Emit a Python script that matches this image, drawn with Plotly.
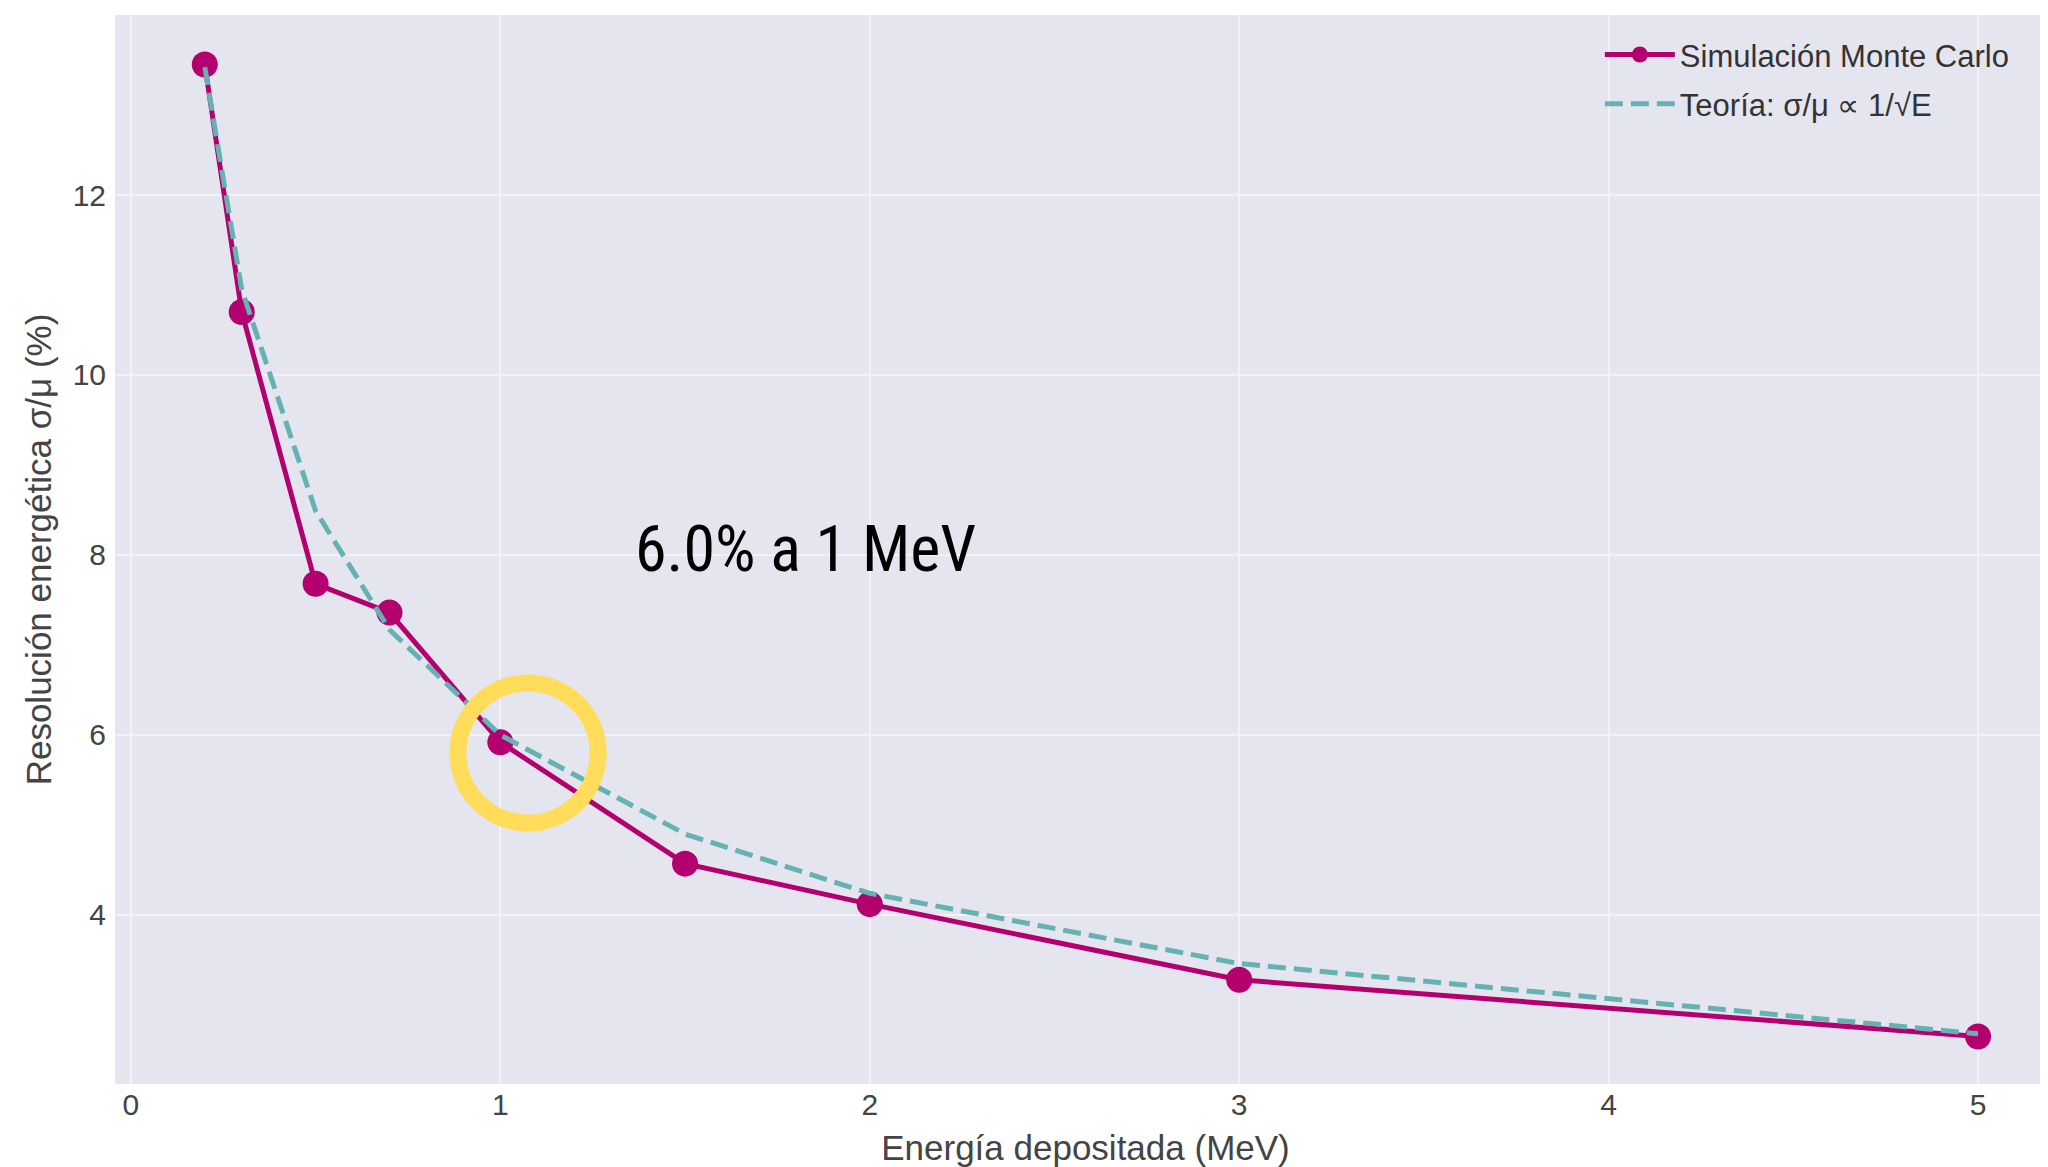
import plotly.graph_objects as go

# Data
energia = [0.2, 0.3, 0.5, 0.7, 1.0, 1.5, 2.0, 3.0, 5.0]
sim_mc = [13.45, 10.70, 7.68, 7.36, 5.92, 4.57, 4.12, 3.28, 2.65]
teoria = [13.42, 10.95, 8.49, 7.17, 6.00, 4.90, 4.24, 3.46, 2.68]
x_ticks = [0, 1, 2, 3, 4, 5]
y_ticks = [4, 6, 8, 10, 12]
circle_center = (1.075, 5.80)
annot_text = "6.0% a 1 MeV"

MAG = "#B3006E"
TEAL = "#66B2B2"
BG = "#E5E5EF"
FONT = "Liberation Sans, Arial, sans-serif"

fig = go.Figure()
fig.add_trace(go.Scatter(
    x=energia, y=sim_mc, mode="lines+markers", name="Simulación Monte Carlo",
    line=dict(color=MAG, width=5), legendgroup="a",
    marker=dict(color=MAG, size=26),
))
fig.add_trace(go.Scatter(
    x=energia, y=teoria, mode="lines", name="Teoría: σ/μ ∝ 1/√E",
    line=dict(color=TEAL, width=5, dash="18px,8px"), legendgroup="b",
))

rx, ry = 0.19, 0.778
cx, cy = circle_center
fig.add_shape(type="circle", xref="x", yref="y",
              x0=cx - rx, x1=cx + rx, y0=cy - ry, y1=cy + ry,
              line=dict(color="#FFDC5A", width=17), layer="above")

fig.add_annotation(x=1.827, y=8.06, xref="x", yref="y", text=annot_text,
                   showarrow=False, xanchor="center", yanchor="middle",
                   font=dict(family="Roboto Condensed, Liberation Sans Narrow, DejaVu Sans Condensed, Roboto, sans-serif",
                             size=64, color="#000000"))

fig.update_layout(
    width=2048, height=1167,
    margin=dict(l=107, r=0, t=7, b=91, autoexpand=False),
    paper_bgcolor="white", plot_bgcolor=BG,
    font=dict(family=FONT, color="#333333"),
    showlegend=True,
    legend=dict(x=0.765, y=0.988, xanchor="left", yanchor="top",
                bgcolor="rgba(0,0,0,0)", font=dict(size=31, color="#333333"),
                itemwidth=70, tracegroupgap=6),
    xaxis=dict(range=[-0.043, 5.211], tickvals=x_ticks, showgrid=True, automargin=False,
               gridcolor="#F1F1F6", gridwidth=2, zeroline=False, showline=False,
               ticks="", tickfont=dict(size=30, color="#444444"),
               title=dict(text="Energía depositada (MeV)", font=dict(size=35, color="#444444"),
                          standoff=15)),
    yaxis=dict(range=[2.122, 14.0], tickvals=y_ticks, showgrid=True, automargin=False,
               gridcolor="#F1F1F6", gridwidth=2, zeroline=False, showline=False,
               ticks="", ticklabelstandoff=8, tickfont=dict(size=30, color="#444444"),
               title=dict(text="Resolución energética σ/μ (%)", font=dict(size=35, color="#444444"),
                          standoff=10)),
)

fig.write_html("out.html")
